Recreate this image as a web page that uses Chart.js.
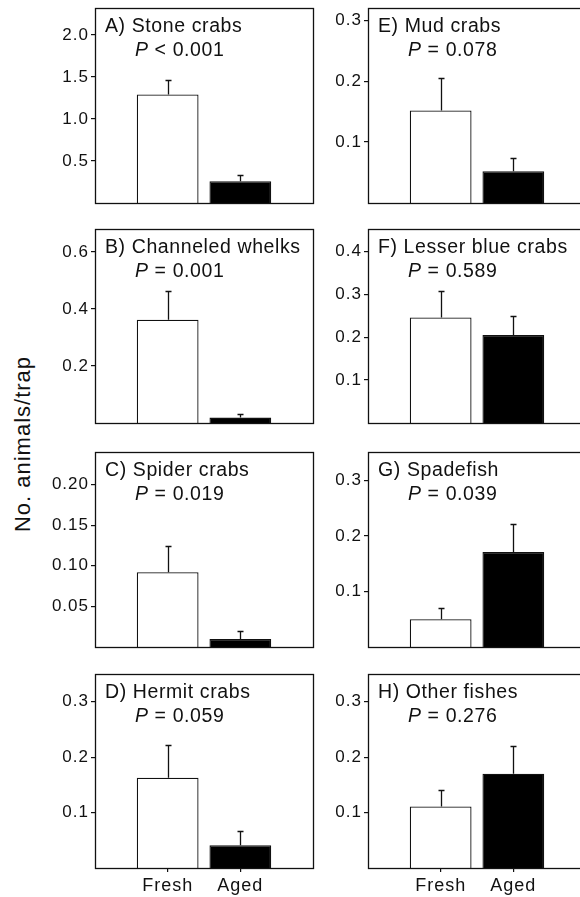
<!DOCTYPE html>
<html><head><meta charset="utf-8">
<script src="https://cdn.jsdelivr.net/npm/chart.js@4"></script>
<style>
body{margin:0;width:580px;height:897px;overflow:hidden;background:#fff;position:relative;font-family:"Liberation Sans",Arial,sans-serif}
canvas{position:absolute}
#ylab{position:absolute;left:23px;top:444px;transform:translate(-50%,-50%) rotate(-90deg);font-size:22px;letter-spacing:1px;white-space:nowrap;color:#111}
</style></head><body>
<div id="ylab">No. animals/trap</div>
<script>
// data
const categories=['Fresh','Aged'];
const titles=['A) Stone crabs','B) Channeled whelks','C) Spider crabs','D) Hermit crabs','E) Mud crabs','F) Lesser blue crabs','G) Spadefish','H) Other fishes'];
const pTexts=['< 0.001','= 0.001','= 0.019','= 0.059','= 0.078','= 0.589','= 0.039','= 0.276'];
const fresh=[1.29,0.362,0.092,0.163,0.152,0.246,0.050,0.111];
const freshSE=[0.17,0.102,0.032,0.059,0.053,0.061,0.020,0.029];
const aged=[0.26,0.019,0.010,0.041,0.052,0.205,0.171,0.170];
const agedSE=[0.076,0.013,0.010,0.025,0.022,0.045,0.050,0.050];
const yMax=[2.32,0.68,0.24,0.35,0.32,0.452,0.351,0.35];
const yTicks=[['0.5','1.0','1.5','2.0'],['0.2','0.4','0.6'],['0.05','0.10','0.15','0.20'],['0.1','0.2','0.3'],
  ['0.1','0.2','0.3'],['0.1','0.2','0.3','0.4'],['0.1','0.2','0.3'],['0.1','0.2','0.3']];

const FONT='"Liberation Sans", Arial, sans-serif';
const rowTop=[8,229,452,674], rowBot=[203,423,647,868];
const ink='#111';

titles.forEach((title,i)=>{
  const col=i<4?0:1, row=i%4, last=row===3;
  const top=rowTop[row]-8;
  const cv=document.createElement('canvas');
  const W=col?272:318, H=last?897-top:rowBot[row]-top+3;
  cv.width=W; cv.height=H;
  cv.style.left=(col?318:0)+'px'; cv.style.top=top+'px';
  cv.style.width=W+'px'; cv.style.height=H+'px';
  document.body.appendChild(cv);

  const spacing={id:'spacing',beforeDraw(ch){ch.ctx.letterSpacing='1px';}};
  const errBars={id:'err',afterDatasetsDraw(ch){
    const c=ch.ctx,xs=ch.scales.x,ys=ch.scales.y;
    c.save();c.strokeStyle=ink;c.lineWidth=1.3;
    [[1,fresh[i],freshSE[i]],[2,aged[i],agedSE[i]]].forEach(([k,v,e])=>{
      const x=Math.round(xs.getPixelForValue(k))+0.5,y0=ys.getPixelForValue(v),y1=Math.round(ys.getPixelForValue(v+e))+0.5;
      c.beginPath();c.moveTo(x,y0);c.lineTo(x,y1);c.moveTo(x-3,y1);c.lineTo(x+3,y1);c.stroke();
    });
    c.restore();
  }};
  const frame={id:'frame',afterDraw(ch){
    const c=ch.ctx,a=ch.chartArea;
    c.save();c.strokeStyle=ink;c.lineWidth=1.3;
    c.strokeRect(Math.round(a.left)+0.5,Math.round(a.top)+0.5,Math.round(a.right-a.left),Math.round(a.bottom-a.top));
    c.fillStyle=ink;c.textBaseline='alphabetic';c.textAlign='left';
    c.letterSpacing='0.6px';
    c.font='19.5px '+FONT;
    c.fillText(title,a.left+10,a.top+23.5);
    c.font='italic 19.5px '+FONT;
    c.fillText('P',a.left+40,a.top+47.5);
    const w=c.measureText('P').width;
    c.font='19.5px '+FONT;
    c.fillText(' '+pTexts[i],a.left+40+w,a.top+47.5);
    c.restore();
  }};

  new Chart(cv,{
    type:'bar',
    data:{labels:['',...categories,''],datasets:[{
      data:[null,fresh[i],aged[i],null],
      backgroundColor:['#fff','#fff','#000','#000'],
      borderColor:ink,borderWidth:1.3,
      categoryPercentage:1,barPercentage:0.85
    }]},
    options:{
      responsive:false,animation:false,devicePixelRatio:1,
      layout:{padding:{top:8,right:col?4:5,bottom:last?0:3,left:0}},
      plugins:{legend:{display:false},tooltip:{enabled:false}},
      scales:{
        x:{type:'category',offset:false,display:last,
          afterFit:s=>{if(last)s.height=29;s.paddingLeft=0;s.paddingRight=0;},
          border:{display:false},
          grid:{offset:false,drawOnChartArea:false,drawTicks:true,tickLength:4,lineWidth:1.2,
            color:c=>(c.index===1||c.index===2)?ink:'rgba(0,0,0,0)'},
          ticks:{color:ink,font:{family:FONT,size:18},padding:3,maxRotation:0,autoSkip:false}},
        y:{min:0,max:yMax[i],
          afterFit:s=>{s.width=col?50:95;s.paddingTop=0;s.paddingBottom=0;},
          afterBuildTicks:s=>{s.ticks=yTicks[i].map(t=>({value:parseFloat(t)}));},
          border:{display:false},
          grid:{drawOnChartArea:false,drawTicks:true,tickLength:4,lineWidth:1.2,color:ink},
          ticks:{color:ink,font:{family:FONT,size:17},padding:2,
            callback:v=>yTicks[i].find(t=>parseFloat(t)===v)||''}}
      }
    },
    plugins:[spacing,errBars,frame]
  });
});
</script>
</body></html>
